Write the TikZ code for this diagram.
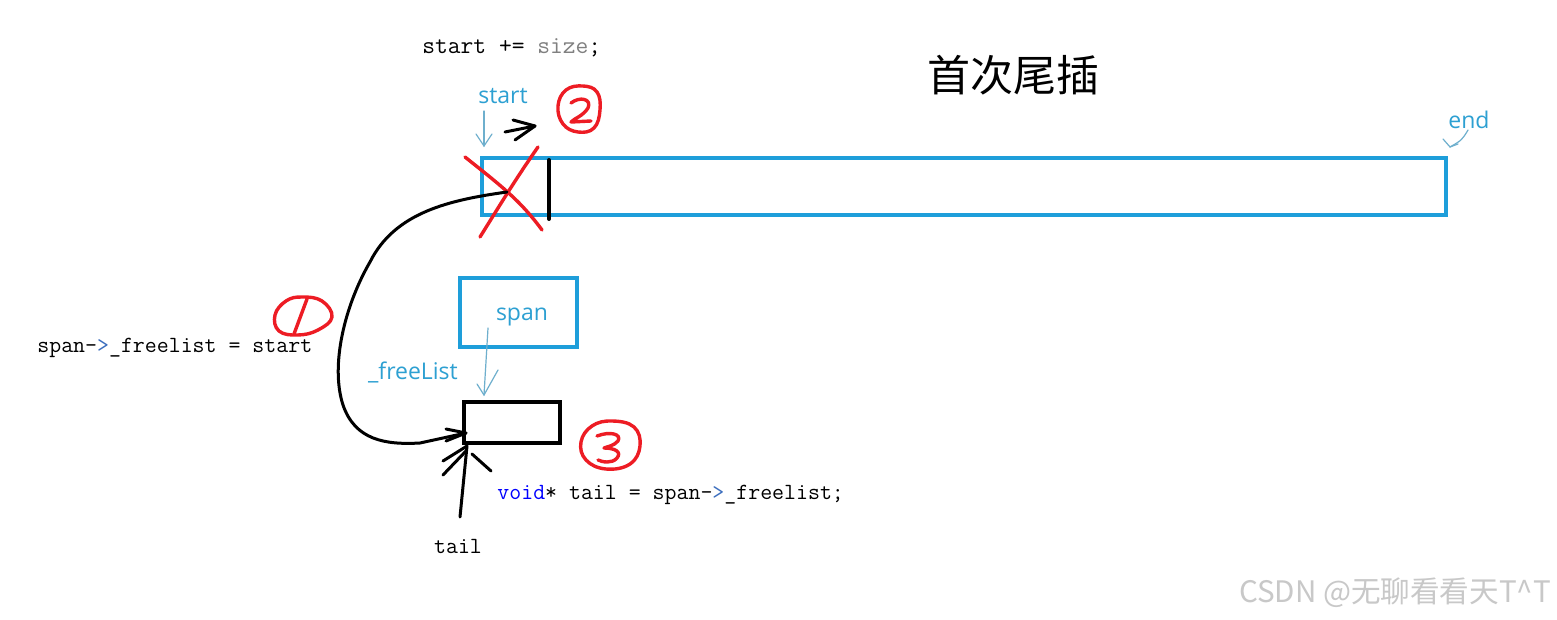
\documentclass[tikz,border=0pt]{standalone}
\usepackage{fontspec}
\newfontfamily\lblfont{Open Sans}
\newfontfamily\cjk{Noto Sans CJK SC}
\definecolor{cblue}{RGB}{30,158,218}
\definecolor{lblue}{RGB}{45,160,210}
\definecolor{tblue}{RGB}{110,175,205}
\definecolor{hred}{RGB}{237,28,36}
\definecolor{kwblue}{RGB}{0,0,255}
\definecolor{opblue}{RGB}{60,110,190}
\definecolor{wmgray}{RGB}{200,200,200}
\begin{document}
\begin{tikzpicture}[x=0.5pt,y=-0.5pt,
  blueframe/.style={draw=cblue, line width=2pt, inner sep=0pt},
  blackframe/.style={draw=black, line width=2pt, inner sep=0pt},
  code/.style={font=\ttfamily\fontsize{11.6}{13}\selectfont, inner sep=0pt, anchor=west},
  blbl/.style={font=\lblfont\fontsize{11.5}{13}\selectfont, text=lblue, inner sep=0pt},
  thinarrow/.style={draw=tblue, line width=0.6pt, line cap=round},
  hand/.style={line width=1.5pt, line cap=round, line join=round},
  redhand/.style={hand, draw=hred, line width=1.7pt}]
\useasboundingbox (0,0) rectangle (1557,620);
\fill[white] (0,0) rectangle (1557,620);

% boxes
\node[blueframe, minimum width=482pt, minimum height=28.5pt] (buf) at (964,186.5) {};
\node[blueframe, minimum width=58.5pt, minimum height=34.5pt] (span) at (518.5,312.5) {};
\node[blackframe, minimum width=48pt, minimum height=20.5pt] (obj) at (512,422) {};

% texts
\node[code, font=\ttfamily\fontsize{12.4}{14}\selectfont] (inc) at (422,48) {start += \textcolor{gray}{size};};
\node[code] (assign) at (37,348) {span-\textcolor{opblue}{>}\_freelist = start};
\node[code] (tailcode) at (497,495) {\textcolor{kwblue}{void}* tail = span-\textcolor{opblue}{>}\_freelist;};
\node[code, anchor=center] (taillbl) at (458,546) {tail};
\node[font=\cjk\fontsize{21.5}{24}\selectfont, inner sep=0pt] (title) at (1013,75) {首次尾插};
\node[font=\cjk\fontsize{14.8}{16}\selectfont, text=wmgray, inner sep=0pt] (wm) at (1395,593) {CSDN @无聊看看天T\textasciicircum T};

\node[blbl] (startlbl) at (503,96) {start};
\node[blbl] (endlbl) at (1469,120) {end};
\node[blbl] (spanlbl) at (522,317) {span};
\node[blbl] (fllbl) at (413,372) {\_freeList};

% thin blue pointer arrows
\coordinate (sA) at (484,111);
\coordinate (sB) at (484,146);
\draw[thinarrow] (sA) -- (sB);
\draw[thinarrow] (476,134) -- (sB) -- (492,134);
\coordinate (eA) at (1468,130);
\coordinate (eB) at (1450,147);
\draw[thinarrow] (eA) .. controls (1462,140) .. (eB);
\draw[thinarrow] (1443,139) -- (eB) -- (1458,144);
\coordinate (fA) at (488,328);
\coordinate (fB) at (484,395);
\draw[thinarrow] (fA) -- (fB);
\draw[thinarrow] (477,384) -- (fB) -- (498,370);

% black bar and red cross in the buffer
\coordinate (barT) at (549,160);
\coordinate (barB) at (549,219);
\draw[hand, line width=2pt] (barT) -- (barB);
\draw[redhand] (465,157) .. controls (500,185) and (520,200) .. (542,230);
\draw[redhand] (538,147) .. controls (515,180) and (500,205) .. (480,237);

% start moves: black arrow
\coordinate (mA) at (505,132);
\coordinate (mB) at (535,126);
\draw[hand] (mA) -- (mB);
\draw[hand] (513,120) -- (mB) -- (515,140);

% curve (1): from start to the object
\coordinate (xc) at (507,192);
\coordinate (tipA) at (466,433);
\draw[hand] (xc) .. controls (450,200) and (395,212) .. (370,262)
  .. controls (345,305) and (330,365) .. (343,405)
  .. controls (355,440) and (385,445) .. (420,443)
  -- (tipA);
\draw[hand] (446,429) -- (tipA) -- (446,441);

% tail arrow
\coordinate (tA) at (460,517);
\coordinate (tB) at (467,446);
\draw[hand] (tA) -- (tB);
\draw[hand] (443,461) -- (tB);
\draw[hand] (443,475) -- (466,451);
\draw[hand] (472,454) -- (491,471);

% circled numbers
\draw[redhand] plot[smooth cycle, tension=0.7] coordinates {(302,297) (322,301) (332,317) (318,330) (298,335) (279,331) (275,315) (286,301)};
\draw[redhand] (294,334) -- (307,299);

\draw[redhand] plot[smooth cycle, tension=0.7] coordinates {(583,86) (597,92) (600,110) (594,128) (578,132) (563,124) (558,106) (566,90)};
\draw[redhand] (571,103) .. controls (580,96) and (592,99) .. (588,108) .. controls (583,116) and (575,118) .. (571,122) -- (591,121);

\draw[redhand] plot[smooth cycle, tension=0.7] coordinates {(612,421) (634,427) (640,446) (630,464) (606,469) (586,460) (581,442) (592,426)};
\draw[redhand] (597,436) .. controls (610,431) and (622,434) .. (618,441) .. controls (614,446) and (606,447) .. (604,448)
  .. controls (615,448) and (622,452) .. (617,458) .. controls (612,464) and (602,462) .. (598,460);
\end{tikzpicture}
\end{document}
